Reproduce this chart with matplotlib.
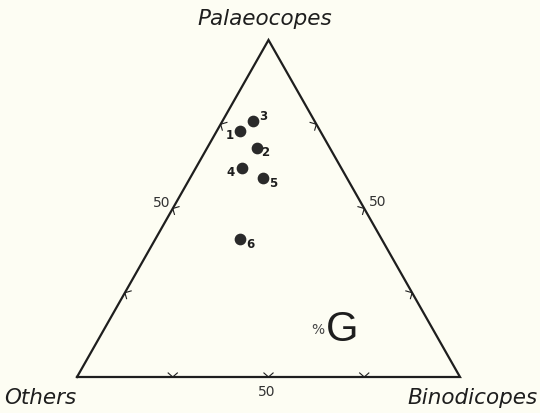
import matplotlib.pyplot as plt
import numpy as np

plt.rcParams['font.family'] = ['DejaVu Sans']

# sample composition (percent)
samples = ['1', '2', '3', '4', '5', '6']
palaeocopes = [73, 68, 76, 62, 59, 41]
binodicopes = [6, 13, 8, 12, 19, 22]
others = [21, 19, 16, 26, 22, 37]

corner_names = ['Others', 'Binodicopes', 'Palaeocopes']
tick_pcts = [25, 50, 75]

bg = '#fdfdf3'
ink = '#1e1e1e'


def tern(p, b, o):
    # cartesian position: Others at (0,0), Binodicopes at (1,0), Palaeocopes at (0.5,1)
    tot = p + b + o
    p, b = p / tot, b / tot
    return b + 0.5 * p, p


fig = plt.figure(figsize=(5.4, 4.13), dpi=100, facecolor=bg)
ax = fig.add_axes([0, 0, 1, 1], facecolor=bg)
ax.set_xlim(-77 / 383, 463 / 383)
ax.set_ylim(-36 / 337, 377 / 337)
ax.axis('off')

# triangle
tri = np.array([tern(0, 0, 100), tern(0, 100, 0), tern(100, 0, 0), tern(0, 0, 100)])
ax.plot(tri[:, 0], tri[:, 1], color=ink, lw=1.6, solid_joinstyle='miter')

# small chevron ticks on each side
def chevron(x, y, dx, dy):
    s = 0.012
    ax.plot([x - s * dy + s * dx, x, x + s * dy + s * dx],
            [y + s * dx * 1.1 + s * dy, y, y - s * dx * 1.1 + s * dy],
            color=ink, lw=0.8)

for t in tick_pcts:
    # bottom side (Others -> Binodicopes)
    x, y = tern(0, t, 100 - t)
    chevron(x, y, 0, 1)
    # left side (Others -> Palaeocopes)
    x, y = tern(t, 0, 100 - t)
    chevron(x, y, 0.87, -0.5)
    # right side (Binodicopes -> Palaeocopes)
    x, y = tern(t, 100 - t, 0)
    chevron(x, y, -0.87, -0.5)

ax.text(0.495, -0.025, '50', fontsize=10, color='#333333', ha='center', va='top')
ax.text(0.22, 0.515, '50', fontsize=10, color='#333333', ha='center', va='center')
ax.text(0.785, 0.518, '50', fontsize=10, color='#333333', ha='center', va='center')

# corner labels
ax.text(-0.19, -0.062, corner_names[0], fontsize=15.5, style='italic', color=ink,
        ha='left', va='center')
ax.text(1.202, -0.062, corner_names[1], fontsize=15.5, style='italic', color=ink,
        ha='right', va='center')
ax.text(0.49, 1.063, corner_names[2], fontsize=15.5, style='italic', color=ink,
        ha='center', va='center')

# data points
xs, ys = zip(*[tern(p, b, o) for p, b, o in zip(palaeocopes, binodicopes, others)])
ax.scatter(xs, ys, s=55, color='#2a2a2a', zorder=3)

offsets = {'1': (-0.025, -0.012), '2': (0.022, -0.014), '3': (0.027, 0.012),
           '4': (-0.03, -0.014), '5': (0.027, -0.016), '6': (0.027, -0.017)}
for name, x, y in zip(samples, xs, ys):
    dx, dy = offsets[name]
    ax.text(x + dx, y + dy, name, fontsize=8.5, fontweight='bold', color=ink,
            ha='center', va='center')

# %G mark
ax.text(0.63, 0.14, '%', fontsize=10, color='#444444', ha='center', va='center')
ax.text(0.693, 0.14, 'G', fontsize=30, color=ink, ha='center', va='center',
        family='Liberation Sans')

fig.savefig('out.png', dpi=100, facecolor=bg)
